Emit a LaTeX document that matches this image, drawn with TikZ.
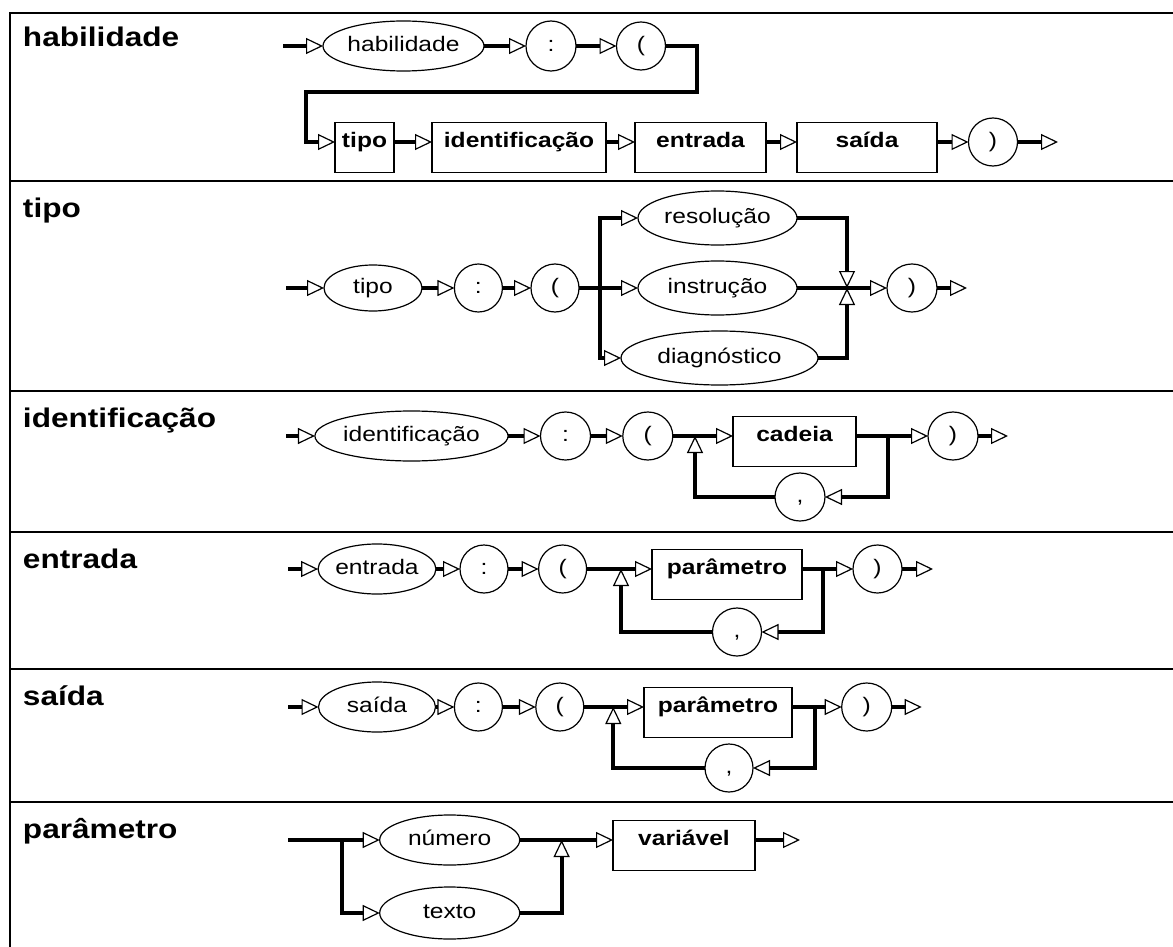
\documentclass[tikz,border=0pt]{standalone}
\usepackage{fontspec}
\setmainfont{Liberation Sans}[FakeStretch=1.17]
\usetikzlibrary{arrows.meta,shapes.geometric}

\tikzset{
  every node/.style={font=\fontsize{21}{25}\selectfont, inner sep=0pt, outer sep=0pt},
  heading/.style={font=\bfseries\fontsize{27}{30}\selectfont, anchor=base west},
  term/.style={ellipse, draw, line width=1.2pt, text height=15pt, text depth=4pt, minimum height=50pt},
  sym/.style={term, minimum width=48pt, minimum height=48pt},
  nterm/.style={rectangle, draw, line width=1.2pt, font=\bfseries\fontsize{21}{25}\selectfont,
    text height=25pt, text depth=25pt, anchor=mid},
  wire/.style={line width=4pt},
  wirearr/.style={line width=4pt, -{Triangle[open, length=17pt, width=16pt, line width=1.2pt]}},
  gridline/.style={line width=2pt},
}

\begin{document}
% the mid anchors of the boxes are measured in this font size
\fontsize{21}{25}\selectfont
\begin{tikzpicture}[x=1pt,y=-1pt]
\useasboundingbox (0,0) rectangle (1173,947);

% outer frame and row separators
\draw[gridline] (1173,13) -- (10,13) -- (10,947);
\foreach \yy in {181,391,532,669,802} \draw[gridline] (10,\yy) -- (1173,\yy);

% row headings
\node[heading] (T1) at (23,47) {habilidade};
\node[heading] (T2) at (23,217) {tipo};
\node[heading] (T3) at (23,427) {identificação};
\node[heading] (T4) at (23,568) {entrada};
\node[heading] (T5) at (23,705) {saída};
\node[heading] (T6) at (23,838) {parâmetro};

% ---------- habilidade ----------
\coordinate (h0) at (283,46);
\node[term, minimum width=161pt] (he) at (403.5,46) {habilidade};
\node[sym, minimum width=50pt, minimum height=50pt] (hc) at (551,46) {:};
\node[sym, minimum width=49pt] (hp) at (641,46) {(};
\node[nterm, minimum width=59pt] (htipo) at (364.5,142) {tipo};
\node[nterm, minimum width=174pt] (hid) at (519,142) {identificação};
\node[nterm, minimum width=131pt] (hen) at (700.5,142) {entrada};
\node[nterm, minimum width=140pt] (hsa) at (867,142) {saída};
\node[sym, minimum width=49pt] (hq) at (993,142) {)};
\coordinate (h9) at (1058,142);
\draw[wirearr] (h0) -- (he.west);
\draw[wirearr] (he.east) -- (hc.west);
\draw[wirearr] (hc.east) -- (hp.west);
\draw[wirearr] (hp.east) -- (697,46) |- (306,92) |- (htipo.mid west);
\draw[wirearr] (htipo.mid east) -- (hid.mid west);
\draw[wirearr] (hid.mid east) -- (hen.mid west);
\draw[wirearr] (hen.mid east) -- (hsa.mid west);
\draw[wirearr] (hsa.mid east) -- (hq.west);
\draw[wirearr] (hq.east) -- (h9);

% ---------- tipo ----------
\coordinate (t0) at (286,288);
\node[term, minimum width=98pt, minimum height=46pt] (te) at (373,288) {tipo};
\node[sym] (tc) at (478.4,288) {:};
\node[sym] (tp) at (555,288) {(};
\coordinate (tj) at (600,288);
\node[term, minimum width=159pt, minimum height=54pt] (tres) at (717.5,218) {resolução};
\node[term, minimum width=159pt, minimum height=54pt] (tins) at (717.5,288) {instrução};
\node[term, minimum width=197pt, minimum height=54pt] (tdia) at (719.5,358) {diagnóstico};
\coordinate (tm) at (847,288);
\node[sym, minimum width=50pt] (tq) at (912,288) {)};
\coordinate (t9) at (967,288);
\draw[wirearr] (t0) -- (te.west);
\draw[wirearr] (te.east) -- (tc.west);
\draw[wirearr] (tc.east) -- (tp.west);
\draw[wire] (tp.east) -- (tj);
\draw[wirearr] (tj) |- (tres.west);
\draw[wirearr] (tj) -- (tins.west);
\draw[wirearr] (tj) |- (tdia.west);
\draw[wire] (tins.east) -- (tm);
\draw[wirearr] (tres.east) -| (tm);
\draw[wirearr] (tdia.east) -| (tm);
\draw[wirearr] (tm) -- (tq.west);
\draw[wirearr] (tq.east) -- (t9);

% ---------- identificação ----------
\coordinate (i0) at (286,436);
\node[term, minimum width=192pt] (ie) at (411.5,436) {identificação};
\node[sym, minimum width=50pt] (ic) at (565.5,436) {:};
\node[sym, minimum width=50pt] (ip) at (647.8,436) {(};
\coordinate (ij) at (695,436);
\node[nterm, minimum width=123pt] (icad) at (794.5,436) {cadeia};
\coordinate (im) at (888,436);
\node[sym, minimum width=50pt] (iq) at (953,436) {)};
\coordinate (i9) at (1008,436);
\node[sym, minimum width=50pt] (icom) at (800,497) {,};
\draw[wirearr] (i0) -- (ie.west);
\draw[wirearr] (ie.east) -- (ic.west);
\draw[wirearr] (ic.east) -- (ip.west);
\draw[wirearr] (ip.east) -- (icad.mid west);
\draw[wirearr] (icad.mid east) -- (iq.west);
\draw[wirearr] (iq.east) -- (i9);
\draw[wirearr] (im) |- (icom.east);
\draw[wirearr] (icom.west) -| (ij);

% ---------- entrada ----------
\coordinate (e0) at (288,569);
\node[term, minimum width=117pt] (ee) at (377,569) {entrada};
\node[sym] (ec) at (484,569) {:};
\node[sym] (ep) at (562.6,569) {(};
\coordinate (ej) at (621,569);
\node[nterm, minimum width=150pt] (epar) at (727,569) {parâmetro};
\coordinate (em) at (823,569);
\node[sym, minimum width=49pt] (eq) at (877.5,569) {)};
\coordinate (e9) at (933,569);
\node[sym, minimum width=49pt] (ecom) at (737,632) {,};
\draw[wirearr] (e0) -- (ee.west);
\draw[wirearr] (ee.east) -- (ec.west);
\draw[wirearr] (ec.east) -- (ep.west);
\draw[wirearr] (ep.east) -- (epar.mid west);
\draw[wirearr] (epar.mid east) -- (eq.west);
\draw[wirearr] (eq.east) -- (e9);
\draw[wirearr] (em) |- (ecom.east);
\draw[wirearr] (ecom.west) -| (ej);

% ---------- saída ----------
\coordinate (s0) at (288,707);
\node[term, minimum width=117pt] (se) at (377,707) {saída};
\node[sym] (sc) at (478.4,707) {:};
\node[sym] (sp) at (559.8,707) {(};
\coordinate (sj) at (613.3,707);
\node[nterm, minimum width=148pt] (spar) at (718,707) {parâmetro};
\coordinate (sm) at (815,707);
\node[sym, minimum width=50pt] (sq) at (866.7,707) {)};
\coordinate (s9) at (921.7,707);
\node[sym] (scom) at (729,768) {,};
\draw[wirearr] (s0) -- (se.west);
\draw[wirearr] (se.east) -- (sc.west);
\draw[wirearr] (sc.east) -- (sp.west);
\draw[wirearr] (sp.east) -- (spar.mid west);
\draw[wirearr] (spar.mid east) -- (sq.west);
\draw[wirearr] (sq.east) -- (s9);
\draw[wirearr] (sm) |- (scom.east);
\draw[wirearr] (scom.west) -| (sj);

% ---------- parâmetro ----------
\coordinate (p0) at (288,840);
\coordinate (pj) at (341.6,840);
\node[term, minimum width=140pt] (pnum) at (449.7,840) {número};
\node[term, minimum width=140pt, minimum height=52pt] (ptex) at (449.7,913) {texto};
\coordinate (pm) at (561.6,840);
\node[nterm, minimum width=142pt] (pvar) at (684,840) {variável};
\coordinate (p9) at (800,840);
\draw[wire] (p0) -- (pj);
\draw[wirearr] (pj) -- (pnum.west);
\draw[wirearr] (pj) |- (ptex.west);
\draw[wire] (pnum.east) -- (pm);
\draw[wirearr] (ptex.east) -| (pm);
\draw[wirearr] (pm) -- (pvar.mid west);
\draw[wirearr] (pvar.mid east) -- (p9);
\end{tikzpicture}
\end{document}
